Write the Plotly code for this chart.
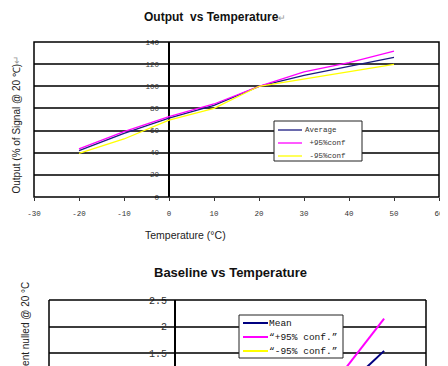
import plotly.graph_objects as go

# ---- Top chart data: Output vs Temperature ----
temps = [-20, -10, 0, 10, 20, 30, 40, 50]
average = [41.8, 57.5, 71.3, 82.8, 100, 109.8, 117.9, 126.2]
plus95 = [43.4, 59.0, 72.5, 84.0, 100, 113.0, 121.3, 131.8]
minus95 = [39.5, 52.4, 69.5, 80.0, 100, 106.4, 112.8, 119.8]
top_names = ["Average", "\u00a0+95%conf", "\u00a0-95%conf"]
top_colors = ["#1a1a80", "#ff00ff", "#ffff00"]
top_xticks = [-30, -20, -10, 0, 10, 20, 30, 40, 50, 60]
top_yticks = [0, 20, 40, 60, 80, 100, 120, 140]

# ---- Bottom chart data: Baseline vs Temperature (only upper part visible) ----
base_temps = [40, 50]
mean_base = [0.80, 1.54]
plus_base = [1.13, 2.15]
minus_base = [0.48, 0.93]
bot_names = ["Mean", "\u201c+95% conf.\u201d", "\u201c-95% conf.\u201d"]
bot_colors = ["#000080", "#ff00ff", "#ffff00"]
bot_yticks = [1.5, 2, 2.5]
bot_yticklabels = ["1.5", "2", "2.5"]

# page body has an 8px margin: figure sits at (8, 8) in the window
OFF = 8
W, H = 448 - OFF, 366 - OFF
def px(x):
    return (x - OFF) / W
def py(y):
    return (H - (y - OFF)) / H

tick_font = dict(family="Liberation Mono", size=7.5, color="#333")
grid_col = "#3c3c3c"

fig = go.Figure()
for vals, name, col in zip([average, plus95, minus95], top_names, top_colors):
    fig.add_trace(go.Scatter(x=temps, y=vals, mode="lines", name=name,
                             line=dict(color=col, width=1.3), xaxis="x", yaxis="y"))
for vals, name, col in zip([mean_base, plus_base, minus_base], bot_names, bot_colors):
    fig.add_trace(go.Scatter(x=base_temps, y=vals, mode="lines", name=name,
                             line=dict(color=col, width=2), xaxis="x2", yaxis="y2"))

top_dom_x = [px(34), px(439)]
top_dom_y = [py(197), py(42)]
bot_dom_x = [px(49), px(426)]
bot_dom_y = [0, py(300)]

fig.update_layout(
    width=W, height=H,
    margin=dict(l=0, r=0, t=0, b=0, pad=0, autoexpand=False),
    paper_bgcolor="white", plot_bgcolor="white",
    showlegend=False,
    xaxis=dict(domain=top_dom_x, anchor="y", range=[-30, 60], tickvals=top_xticks,
               ticktext=[str(v) for v in top_xticks], tickfont=tick_font,
               ticks="outside", ticklen=3, tickcolor="#333", showgrid=False,
               zeroline=True, zerolinecolor="black", zerolinewidth=1.5, showline=False,
               ticklabelstandoff=6, automargin=False),
    yaxis=dict(domain=top_dom_y, anchor="free", position=px(169), range=[0, 140],
               tickvals=top_yticks, ticktext=[str(v) for v in top_yticks], tickfont=tick_font,
               showgrid=True, gridcolor=grid_col, gridwidth=1.5, zeroline=False, showline=False,
               ticks="", ticklabelstandoff=10, automargin=False),
    xaxis2=dict(domain=bot_dom_x, anchor="y2", range=[-30, 60], showticklabels=False,
                ticks="", showgrid=False, zeroline=True, zerolinecolor="black",
                zerolinewidth=1.5, showline=False, automargin=False),
    yaxis2=dict(domain=bot_dom_y, anchor="free", position=px(175), range=[1.255, 2.5],
                tickvals=bot_yticks, ticktext=bot_yticklabels,
                tickfont=dict(family="Liberation Mono", size=10, color="#333"),
                showgrid=True, gridcolor=grid_col, gridwidth=1.5, zeroline=False, showline=False,
                ticks="", ticklabelstandoff=8, automargin=False),
)

# frames
fig.add_shape(type="rect", xref="x domain", yref="y domain", x0=0, x1=1, y0=0, y1=1,
              line=dict(color="black", width=1.5), layer="above")
for (x0, y0, x1, y1) in [(0, 0, 0, 1), (1, 0, 1, 1), (0, 1, 1, 1)]:
    fig.add_shape(type="line", xref="x2 domain", yref="y2 domain", x0=x0, x1=x1, y0=y0, y1=y1,
                  line=dict(color="black", width=1.5), layer="above")

# manual legends (compact rows like the original)
def add_legend(box, row_y, line_x, text_x, names, colors, font, lw):
    x0, y0, x1, y1 = box
    fig.add_shape(type="rect", xref="paper", yref="paper", x0=px(x0), x1=px(x1), y0=py(y1), y1=py(y0),
                  line=dict(color="#222", width=1), fillcolor="white", layer="above")
    for i, (nm, col) in enumerate(zip(names, colors)):
        yy = row_y[i]
        fig.add_shape(type="line", xref="paper", yref="paper", x0=px(line_x[0]), x1=px(line_x[1]),
                      y0=py(yy), y1=py(yy), line=dict(color=col, width=lw), layer="above")
        fig.add_annotation(x=px(text_x), y=py(yy), xref="paper", yref="paper", xanchor="left",
                           yanchor="middle", text=nm, showarrow=False, font=font)

add_legend((274, 121, 362, 161), [130, 143, 156], (278, 302), 303, top_names, top_colors,
           dict(family="Liberation Mono", size=7.5, color="#333"), 1.3)
add_legend((239, 315, 343, 358), [323, 337, 351], (243, 268), 267, bot_names, bot_colors,
           dict(family="Liberation Mono", size=9.5, color="#111"), 2)

# titles
fig.add_annotation(x=px(142), y=py(17), xref="paper", yref="paper", xanchor="left", yanchor="middle",
                   text="<b>Output  vs Temperature</b><span style='color:#999;font-size:9px'>\u21b5</span>",
                   showarrow=False, font=dict(family="Liberation Sans", size=12, color="#111"))
fig.add_annotation(x=px(152), y=py(272), xref="paper", yref="paper", xanchor="left", yanchor="middle",
                   text="<b>Baseline vs Temperature</b>",
                   showarrow=False, font=dict(family="Liberation Sans", size=13, color="#111"))
fig.add_annotation(x=px(143), y=py(235), xref="paper", yref="paper", xanchor="left", yanchor="middle",
                   text="Temperature (\u00b0C)",
                   showarrow=False, font=dict(family="Liberation Sans", size=10.5, color="#222"))
fig.add_annotation(x=px(8), y=py(125), xref="paper", yref="paper", xanchor="left", yanchor="middle",
                   text="Output (% of Signal @ 20 \u2103)<span style='color:#999'>\u21b5</span>", textangle=-90,
                   showarrow=False, font=dict(family="Liberation Sans", size=10, color="#222"))
fig.add_annotation(x=px(25), y=py(280), xref="paper", yref="paper", xanchor="center", yanchor="top",
                   text="Baseline Current nulled @ 20 \u00b0C", textangle=-90,
                   showarrow=False, font=dict(family="Liberation Sans", size=10, color="#222"))

fig.write_html("out.html")
